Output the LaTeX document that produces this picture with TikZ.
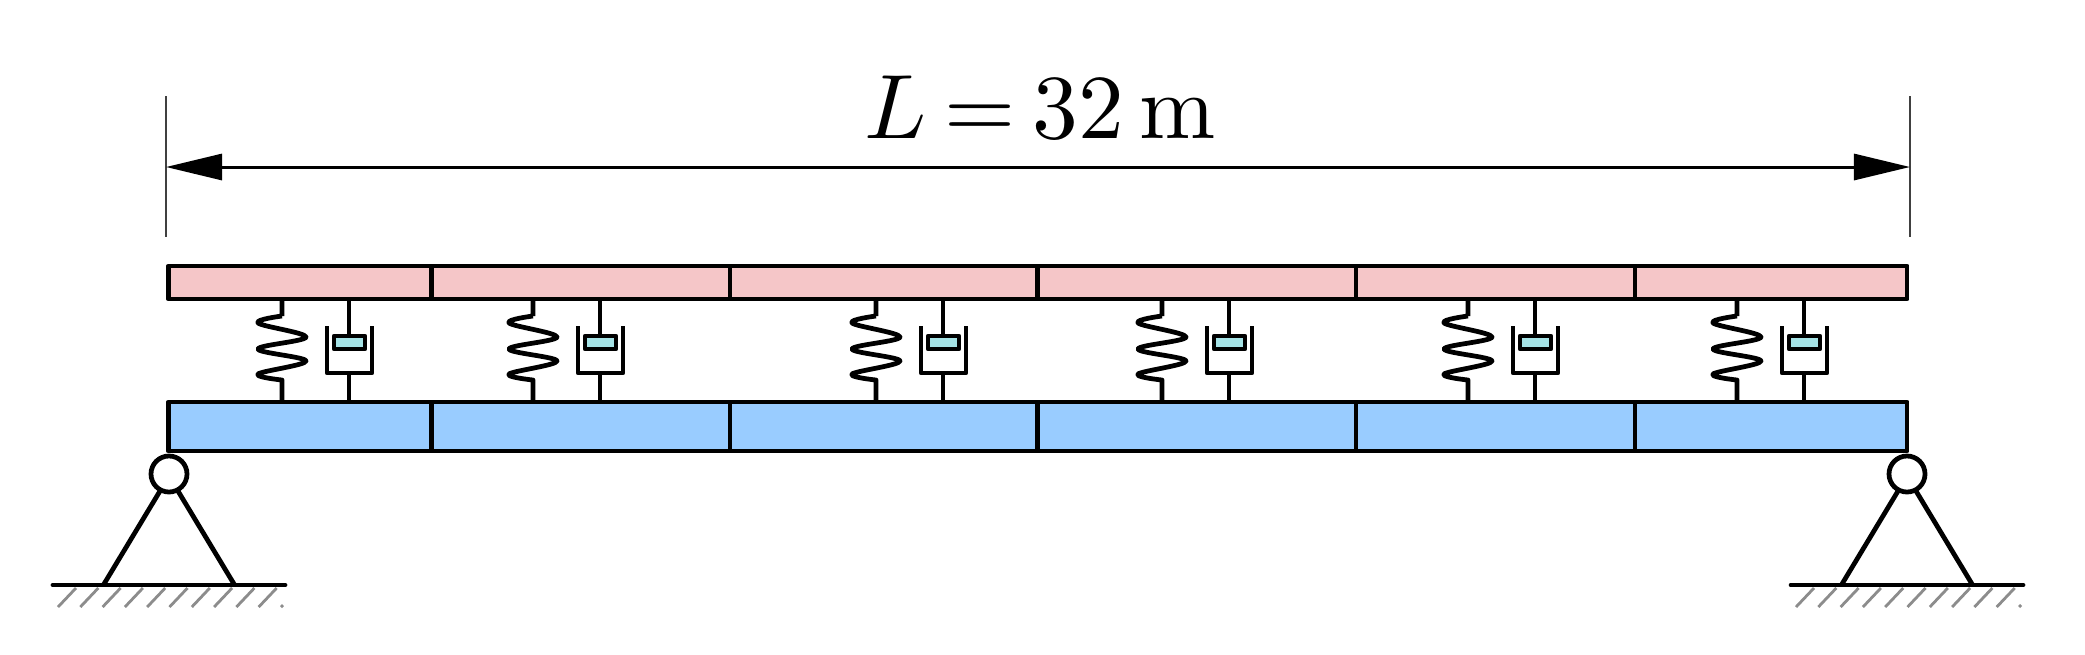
\documentclass[tikz,border=0pt]{standalone}
\usepackage{amsmath,amssymb}
\usetikzlibrary{arrows.meta}
\definecolor{deckpink}{HTML}{F5C6C8}
\definecolor{baseblue}{HTML}{99CCFF}
\definecolor{pistoncyan}{HTML}{A5E3E6}
\tikzset{
bar/.style={line width=1.35pt, line join=round},
topseg/.style={rectangle, draw, bar, fill=deckpink, minimum height=0.33cm, inner sep=0pt},
baseseg/.style={rectangle, draw, bar, fill=baseblue, minimum height=0.49cm, inner sep=0pt},
hinge/.style={circle, draw, bar, fill=white, minimum size=0.36cm, inner sep=0pt},
extline/.style={line width=0.6pt, draw=black!75},
dimline/.style={line width=0.85pt, {Triangle[length=0.56cm,width=0.26cm]}-{Triangle[length=0.56cm,width=0.26cm]}},
mount/.pic={
\draw [bar] (0,299) -- (0,316) plot [smooth, tension=0.6] coordinates {(0,316) (-24,323) (24,337) (-24,349) (24,361) (-24,374) (0,380)} -- (0,401);
\draw [bar] (67,299) -- (67,336);
\draw [bar] (67,373) -- (67,401);
\draw [bar] (45,326) -- (45,373) -- (90,373) -- (90,326);
\draw [bar, fill=pistoncyan] (52,336) rectangle (83,349);
},
support/.pic={
\draw [bar] (-9,17) -- (-65,110);
\draw [bar] (9,17) -- (65,110);
\draw [bar, line cap=round] (-116,111) -- (116,111);
\foreach \i in {0,...,9} {
\draw [line width=0.8pt, black!45] (-111+22.3*\i,133) -- (-93+22.3*\i,114);
}
\draw [line width=0.8pt, black!45] (112,133) -- (114,131);
}
}
\begin{document}
\begin{tikzpicture}[x=0.01cm,y=-0.01cm]
\useasboundingbox (0,0) rectangle (2085,654);

\coordinate (extLt) at (166,96);
\coordinate (extLb) at (166,237);
\coordinate (extRt) at (1910,96);
\coordinate (extRb) at (1910,237);
\coordinate (dimL) at (166,167);
\coordinate (dimR) at (1910,167);
\draw [extline] (extLt) -- (extLb);
\draw [extline] (extRt) -- (extRb);
\draw [dimline] (dimL) -- (dimR);
\node [inner sep=0pt, anchor=base, scale=2.6] (span) at (1040,138) {\thickmuskip=3.5mu $L=32\,\mathrm{m}$};

\node [topseg, minimum width=2.63cm] (T1) at (300,282.5) {};
\node [topseg, minimum width=2.985cm] (T2) at (580.75,282.5) {};
\node [topseg, minimum width=3.075cm] (T3) at (883.75,282.5) {};
\node [topseg, minimum width=3.185cm] (T4) at (1196.75,282.5) {};
\node [topseg, minimum width=2.79cm] (T5) at (1495.5,282.5) {};
\node [topseg, minimum width=2.72cm] (T6) at (1771,282.5) {};

\node [baseseg, minimum width=2.63cm] (B1) at (300,426.5) {};
\node [baseseg, minimum width=2.985cm] (B2) at (580.75,426.5) {};
\node [baseseg, minimum width=3.075cm] (B3) at (883.75,426.5) {};
\node [baseseg, minimum width=3.185cm] (B4) at (1196.75,426.5) {};
\node [baseseg, minimum width=2.79cm] (B5) at (1495.5,426.5) {};
\node [baseseg, minimum width=2.72cm] (B6) at (1771,426.5) {};

\pic at (282,0) {mount};
\pic at (533,0) {mount};
\pic at (876,0) {mount};
\pic at (1162,0) {mount};
\pic at (1468,0) {mount};
\pic at (1737,0) {mount};

\pic at (169,474) {support};
\pic at (1907,474) {support};
\node [hinge] (HL) at (169,474) {};
\node [hinge] (HR) at (1907,474) {};
\end{tikzpicture}
\end{document}
